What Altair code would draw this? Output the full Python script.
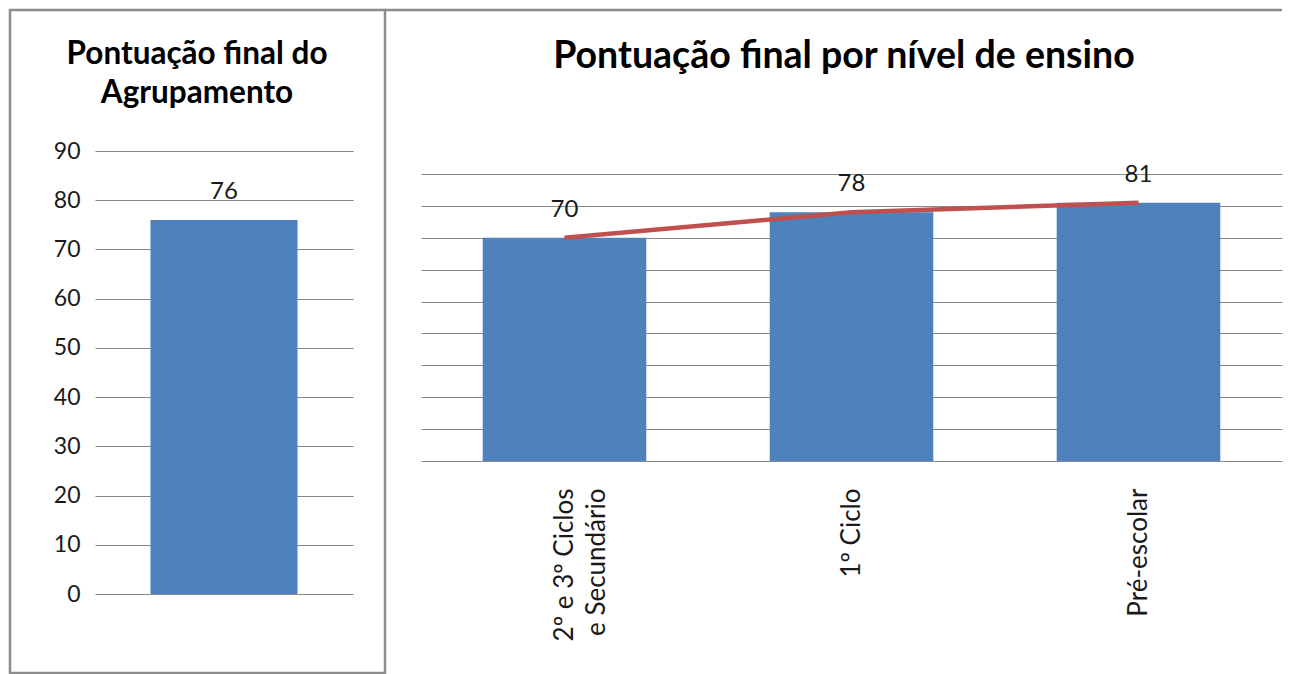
import altair as alt
import pandas as pd

# ---- data ----
left_title = "Pontuação final do\nAgrupamento"
left_categories = ["Agrupamento"]
left_values = [76]

right_title = "Pontuação final por nível de ensino"
right_categories = ["2º e 3º Ciclos\ne Secundário", "1º Ciclo", "Pré-escolar"]
right_values = [70, 78, 81]

y_ticks = [0, 10, 20, 30, 40, 50, 60, 70, 80, 90]

BAR = "#4F81BD"
LINE = "#C0504D"
GRID = "#8a8a8a"
FRAME = "#8c8c8c"
FONT = "Lato"

left_df = pd.DataFrame({"cat": left_categories, "valor": left_values})
right_df = pd.DataFrame({"cat": right_categories, "valor": right_values})
one = pd.DataFrame({"k": [0]})

# ---- left panel ----
LW, LH = 258, 443
lx = alt.X("cat:N", sort=None, axis=None,
           scale=alt.Scale(paddingInner=0.43, paddingOuter=0.215))
ly = alt.Y("valor:Q", scale=alt.Scale(domain=[0, 90], nice=False),
           axis=alt.Axis(values=y_ticks, title=None, ticks=False, domain=False,
                         grid=True, gridColor=GRID, gridWidth=1.2,
                         labelFont=FONT, labelFontSize=23, labelColor="#1a1a1a",
                         labelPadding=15))

left_bars = alt.Chart(left_df).mark_bar(color=BAR).encode(x=lx, y=ly)
left_text = alt.Chart(left_df).mark_text(
    font=FONT, fontSize=24, color="#1a1a1a", baseline="middle", dy=-28
).encode(x=lx, y=ly, text=alt.Text("valor:Q"))
left_frame = alt.Chart(one).mark_rect(fill=None, stroke=FRAME, strokeWidth=2.5).encode(
    x=alt.value(-85), x2=alt.value(290), y=alt.value(-141), y2=alt.value(522)
)
left_head = alt.Chart(one).mark_text(
    font=FONT, fontSize=31.5, fontWeight="bold", color="black",
    align="center", baseline="alphabetic", lineBreak="\n", lineHeight=39
).encode(x=alt.value(102), y=alt.value(-87), text=alt.value(left_title))

left = alt.layer(left_frame, left_head, left_bars, left_text).properties(
    width=LW, height=LH
)

# ---- right panel ----
# plot area spans the same top as the left one; the 0-90 grid sits in its lower part
RW, RH = 861, 310
RMAX = 90 * 310 / 287
rx = alt.X("cat:N", sort=None,
           scale=alt.Scale(paddingInner=0.43, paddingOuter=0.215),
           axis=alt.Axis(title=None, ticks=False, domain=False, labelAngle=-90,
                         labelFont=FONT, labelFontSize=26, labelColor="#1a1a1a",
                         labelPadding=27, labelLineHeight=32,
                         labelExpr="split(datum.label, '\\n')"))
ry = alt.Y("valor:Q", scale=alt.Scale(domain=[0, RMAX], nice=False),
           axis=alt.Axis(values=y_ticks, title=None, ticks=False, domain=False,
                         labels=False, grid=True, gridColor=GRID, gridWidth=1.2))

right_bars = alt.Chart(right_df).mark_bar(color=BAR).encode(x=rx, y=ry)
right_line = alt.Chart(right_df).mark_line(color=LINE, strokeWidth=4.5).encode(
    x=rx, y=ry
)
right_text = alt.Chart(right_df).mark_text(
    font=FONT, fontSize=24, color="#1a1a1a", baseline="middle", dy=-28
).encode(x=rx, y=ry, text=alt.Text("valor:Q"))
right_top = alt.Chart(one).mark_rule(stroke=FRAME, strokeWidth=2.5).encode(
    x=alt.value(-36), x2=alt.value(RW), y=alt.value(-141)
)
right_head = alt.Chart(one).mark_text(
    font=FONT, fontSize=37.5, fontWeight="bold", color="black",
    align="center", baseline="alphabetic"
).encode(x=alt.value(423), y=alt.value(-83), text=alt.value(right_title))

right = alt.layer(right_top, right_head, right_bars, right_line, right_text).properties(
    width=RW, height=RH
)

chart = alt.hconcat(left, right, spacing=-4).properties(
    padding={"left": 0, "top": 0, "right": 0, "bottom": 0},
    background="white",
).configure_view(strokeWidth=0, stroke="transparent")

chart.save("out.html", embed_options={"renderer": "svg", "actions": False})
